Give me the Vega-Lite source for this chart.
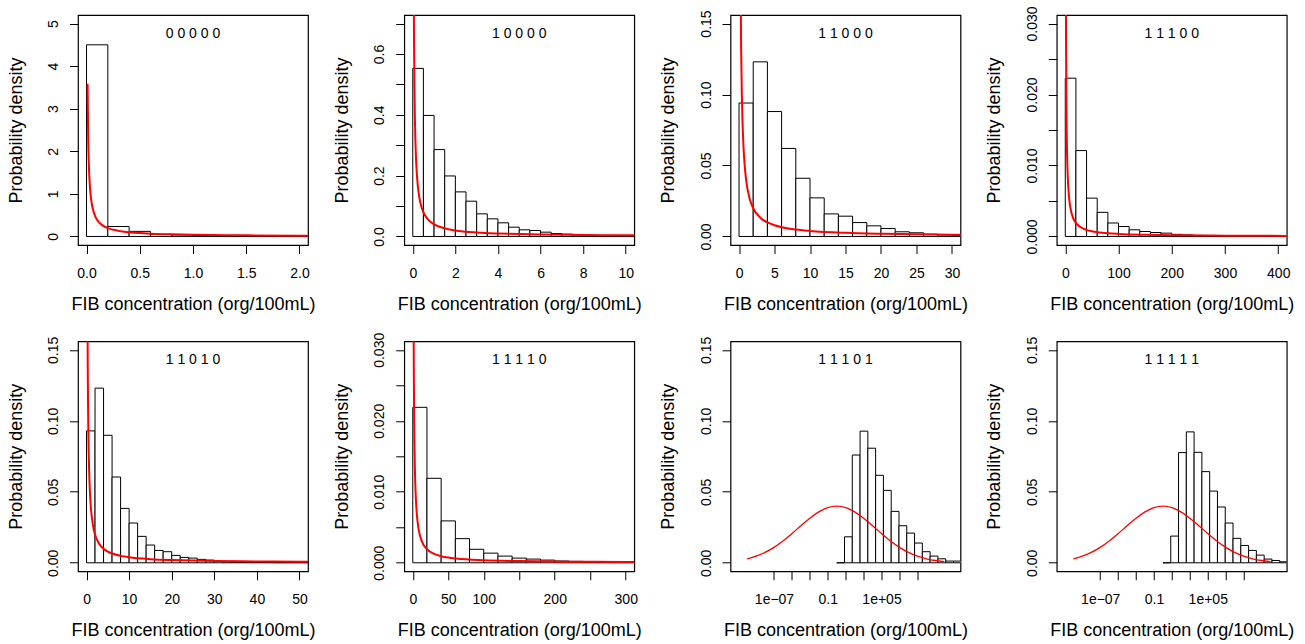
{
"$schema":"https://vega.github.io/schema/vega-lite/v6.json",
"background":"white",
"padding":{"left":6,"top":5,"right":0,"bottom":0},
"datasets":{
"bars":[
{"p":"00000","conc":0,"conc_end":0.2,"density":4.5},{"p":"00000","conc":0.2,"conc_end":0.4,"density":0.234},{"p":"00000","conc":0.4,"conc_end":0.6,"density":0.12},{"p":"00000","conc":0.6,"conc_end":0.8,"density":0.05},{"p":"00000","conc":0.8,"conc_end":1.0,"density":0.035},{"p":"00000","conc":1.0,"conc_end":1.2,"density":0.022},{"p":"00000","conc":1.2,"conc_end":1.4,"density":0.014},{"p":"00000","conc":1.4,"conc_end":1.6,"density":0.009},{"p":"00000","conc":1.6,"conc_end":1.8,"density":0.006},{"p":"00000","conc":1.8,"conc_end":2.0,"density":0.004},{"p":"00000","conc":2.0,"conc_end":2.2,"density":0.003},
{"p":"10000","conc":0,"conc_end":0.5,"density":0.5525},{"p":"10000","conc":0.5,"conc_end":1,"density":0.398},{"p":"10000","conc":1,"conc_end":1.5,"density":0.2856},{"p":"10000","conc":1.5,"conc_end":2,"density":0.199},{"p":"10000","conc":2,"conc_end":2.5,"density":0.1466},{"p":"10000","conc":2.5,"conc_end":3,"density":0.116},{"p":"10000","conc":3,"conc_end":3.5,"density":0.0744},{"p":"10000","conc":3.5,"conc_end":4,"density":0.058},{"p":"10000","conc":4,"conc_end":4.5,"density":0.0449},{"p":"10000","conc":4.5,"conc_end":5,"density":0.0306},{"p":"10000","conc":5,"conc_end":5.5,"density":0.0219},{"p":"10000","conc":5.5,"conc_end":6,"density":0.0197},{"p":"10000","conc":6,"conc_end":6.5,"density":0.0142},{"p":"10000","conc":6.5,"conc_end":7,"density":0.0098},{"p":"10000","conc":7,"conc_end":7.5,"density":0.0077},{"p":"10000","conc":7.5,"conc_end":8,"density":0.006},{"p":"10000","conc":8,"conc_end":8.5,"density":0.0045},{"p":"10000","conc":8.5,"conc_end":9,"density":0.0035},{"p":"10000","conc":9,"conc_end":9.5,"density":0.0027},{"p":"10000","conc":9.5,"conc_end":10,"density":0.002},{"p":"10000","conc":10,"conc_end":10.5,"density":0.0016},
{"p":"11000","conc":0,"conc_end":2,"density":0.094},{"p":"11000","conc":2,"conc_end":4,"density":0.123},{"p":"11000","conc":4,"conc_end":6,"density":0.088},{"p":"11000","conc":6,"conc_end":8,"density":0.062},{"p":"11000","conc":8,"conc_end":10,"density":0.041},{"p":"11000","conc":10,"conc_end":12,"density":0.0272},{"p":"11000","conc":12,"conc_end":14,"density":0.0159},{"p":"11000","conc":14,"conc_end":16,"density":0.0143},{"p":"11000","conc":16,"conc_end":18,"density":0.0098},{"p":"11000","conc":18,"conc_end":20,"density":0.0075},{"p":"11000","conc":20,"conc_end":22,"density":0.0056},{"p":"11000","conc":22,"conc_end":24,"density":0.0033},{"p":"11000","conc":24,"conc_end":26,"density":0.0026},{"p":"11000","conc":26,"conc_end":28,"density":0.0016},{"p":"11000","conc":28,"conc_end":30,"density":0.0011},{"p":"11000","conc":30,"conc_end":32,"density":0.0008},
{"p":"11100","conc":0,"conc_end":20,"density":0.0223},{"p":"11100","conc":20,"conc_end":40,"density":0.0121},{"p":"11100","conc":40,"conc_end":60,"density":0.0054},{"p":"11100","conc":60,"conc_end":80,"density":0.0034},{"p":"11100","conc":80,"conc_end":100,"density":0.0019},{"p":"11100","conc":100,"conc_end":120,"density":0.0014},{"p":"11100","conc":120,"conc_end":140,"density":0.00094},{"p":"11100","conc":140,"conc_end":160,"density":0.0007},{"p":"11100","conc":160,"conc_end":180,"density":0.00056},{"p":"11100","conc":180,"conc_end":200,"density":0.00047},{"p":"11100","conc":200,"conc_end":220,"density":0.0003},{"p":"11100","conc":220,"conc_end":240,"density":0.00022},{"p":"11100","conc":240,"conc_end":260,"density":0.00016},{"p":"11100","conc":260,"conc_end":280,"density":0.00012},{"p":"11100","conc":280,"conc_end":300,"density":0.0001},{"p":"11100","conc":300,"conc_end":320,"density":0.00008},{"p":"11100","conc":320,"conc_end":340,"density":0.00006},{"p":"11100","conc":340,"conc_end":360,"density":0.00005},{"p":"11100","conc":360,"conc_end":380,"density":0.00004},{"p":"11100","conc":380,"conc_end":400,"density":0.00003},{"p":"11100","conc":400,"conc_end":420,"density":0.00002},
{"p":"11010","conc":0,"conc_end":2,"density":0.0929},{"p":"11010","conc":2,"conc_end":4,"density":0.123},{"p":"11010","conc":4,"conc_end":6,"density":0.0898},{"p":"11010","conc":6,"conc_end":8,"density":0.0604},{"p":"11010","conc":8,"conc_end":10,"density":0.0383},{"p":"11010","conc":10,"conc_end":12,"density":0.028},{"p":"11010","conc":12,"conc_end":14,"density":0.0186},{"p":"11010","conc":14,"conc_end":16,"density":0.0125},{"p":"11010","conc":16,"conc_end":18,"density":0.0087},{"p":"11010","conc":18,"conc_end":20,"density":0.0078},{"p":"11010","conc":20,"conc_end":22,"density":0.0052},{"p":"11010","conc":22,"conc_end":24,"density":0.0038},{"p":"11010","conc":24,"conc_end":26,"density":0.0033},{"p":"11010","conc":26,"conc_end":28,"density":0.0024},{"p":"11010","conc":28,"conc_end":30,"density":0.0019},{"p":"11010","conc":30,"conc_end":32,"density":0.0009},{"p":"11010","conc":32,"conc_end":34,"density":0.0007},{"p":"11010","conc":34,"conc_end":36,"density":0.0005},{"p":"11010","conc":36,"conc_end":38,"density":0.0004},{"p":"11010","conc":38,"conc_end":40,"density":0.0003},{"p":"11010","conc":40,"conc_end":42,"density":0.0002},{"p":"11010","conc":42,"conc_end":44,"density":0.0002},{"p":"11010","conc":44,"conc_end":46,"density":0.0001},{"p":"11010","conc":46,"conc_end":48,"density":0.0001},{"p":"11010","conc":48,"conc_end":50,"density":0.0001},{"p":"11010","conc":50,"conc_end":52,"density":0.0001},{"p":"11010","conc":52,"conc_end":54,"density":0.00005},
{"p":"11110","conc":0,"conc_end":20,"density":0.0219},{"p":"11110","conc":20,"conc_end":40,"density":0.0119},{"p":"11110","conc":40,"conc_end":60,"density":0.0059},{"p":"11110","conc":60,"conc_end":80,"density":0.0034},{"p":"11110","conc":80,"conc_end":100,"density":0.0019},{"p":"11110","conc":100,"conc_end":120,"density":0.00136},{"p":"11110","conc":120,"conc_end":140,"density":0.00094},{"p":"11110","conc":140,"conc_end":160,"density":0.00066},{"p":"11110","conc":160,"conc_end":180,"density":0.00052},{"p":"11110","conc":180,"conc_end":200,"density":0.00038},{"p":"11110","conc":200,"conc_end":220,"density":0.00025},{"p":"11110","conc":220,"conc_end":240,"density":0.0002},{"p":"11110","conc":240,"conc_end":260,"density":0.00015},{"p":"11110","conc":260,"conc_end":280,"density":0.0001},{"p":"11110","conc":280,"conc_end":300,"density":0.0001},{"p":"11110","conc":300,"conc_end":320,"density":0.00008},
{"p":"11101","conc":1,"conc_end":7.389,"density":0},{"p":"11101","conc":7.389,"conc_end":54.6,"density":0.0183},{"p":"11101","conc":54.6,"conc_end":403.4,"density":0.0759},{"p":"11101","conc":403.4,"conc_end":2981,"density":0.0927},{"p":"11101","conc":2981,"conc_end":22026,"density":0.0807},{"p":"11101","conc":22026,"conc_end":162755,"density":0.0616},{"p":"11101","conc":162755,"conc_end":1202604,"density":0.051},{"p":"11101","conc":1202604,"conc_end":8886111,"density":0.0362},{"p":"11101","conc":8886111,"conc_end":65659969,"density":0.0261},{"p":"11101","conc":65659969,"conc_end":485165195,"density":0.0209},{"p":"11101","conc":485165195,"conc_end":3584912846,"density":0.0139},{"p":"11101","conc":3584912846,"conc_end":26489122130,"density":0.0078},{"p":"11101","conc":26489122130,"conc_end":195729609429,"density":0.0047},{"p":"11101","conc":195729609429,"conc_end":1446257064291,"density":0.0028},{"p":"11101","conc":1446257064291,"conc_end":10686474581525,"density":0.0012},{"p":"11101","conc":10686474581525,"conc_end":78962960182681,"density":0.0012},
{"p":"11111","conc":1,"conc_end":7.389,"density":0},{"p":"11111","conc":7.389,"conc_end":54.6,"density":0.0188},{"p":"11111","conc":54.6,"conc_end":403.4,"density":0.0776},{"p":"11111","conc":403.4,"conc_end":2981,"density":0.0922},{"p":"11111","conc":2981,"conc_end":22026,"density":0.0778},{"p":"11111","conc":22026,"conc_end":162755,"density":0.0642},{"p":"11111","conc":162755,"conc_end":1202604,"density":0.0505},{"p":"11111","conc":1202604,"conc_end":8886111,"density":0.0393},{"p":"11111","conc":8886111,"conc_end":65659969,"density":0.028},{"p":"11111","conc":65659969,"conc_end":485165195,"density":0.0172},{"p":"11111","conc":485165195,"conc_end":3584912846,"density":0.0122},{"p":"11111","conc":3584912846,"conc_end":26489122130,"density":0.0087},{"p":"11111","conc":26489122130,"conc_end":195729609429,"density":0.0054},{"p":"11111","conc":195729609429,"conc_end":1446257064291,"density":0.0026},{"p":"11111","conc":1446257064291,"conc_end":10686474581525,"density":0.0016},{"p":"11111","conc":10686474581525,"conc_end":78962960182681,"density":0.0007}
],
"curve":[
{"p":"00000","conc":0.01,"density":3.587},{"p":"00000","conc":0.015,"density":2.435},{"p":"00000","conc":0.02,"density":1.848},{"p":"00000","conc":0.03,"density":1.251},{"p":"00000","conc":0.04,"density":0.947},{"p":"00000","conc":0.05,"density":0.763},{"p":"00000","conc":0.06,"density":0.639},{"p":"00000","conc":0.08,"density":0.483},{"p":"00000","conc":0.1,"density":0.3886},{"p":"00000","conc":0.15,"density":0.2613},{"p":"00000","conc":0.2,"density":0.1969},{"p":"00000","conc":0.3,"density":0.132},{"p":"00000","conc":0.4,"density":0.0993},{"p":"00000","conc":0.5,"density":0.0796},{"p":"00000","conc":0.6,"density":0.0664},{"p":"00000","conc":0.8,"density":0.0499},{"p":"00000","conc":1,"density":0.0399},{"p":"00000","conc":1.2,"density":0.0332},{"p":"00000","conc":1.5,"density":0.0266},{"p":"00000","conc":2,"density":0.0199},{"p":"00000","conc":2.1,"density":0.019},
{"p":"10000","conc":0.03,"density":1.251},{"p":"10000","conc":0.04,"density":0.947},{"p":"10000","conc":0.05,"density":0.763},{"p":"10000","conc":0.06,"density":0.639},{"p":"10000","conc":0.08,"density":0.483},{"p":"10000","conc":0.1,"density":0.3886},{"p":"10000","conc":0.15,"density":0.2613},{"p":"10000","conc":0.2,"density":0.1969},{"p":"10000","conc":0.3,"density":0.132},{"p":"10000","conc":0.4,"density":0.0993},{"p":"10000","conc":0.5,"density":0.0796},{"p":"10000","conc":0.6,"density":0.0664},{"p":"10000","conc":0.8,"density":0.0499},{"p":"10000","conc":1,"density":0.0399},{"p":"10000","conc":1.5,"density":0.0266},{"p":"10000","conc":2,"density":0.0199},{"p":"10000","conc":3,"density":0.0132},{"p":"10000","conc":4,"density":0.00988},{"p":"10000","conc":5,"density":0.00788},{"p":"10000","conc":6,"density":0.00654},{"p":"10000","conc":8,"density":0.00488},{"p":"10000","conc":10,"density":0.00389},{"p":"10000","conc":10.5,"density":0.0037},
{"p":"11000","conc":0.15,"density":0.2613},{"p":"11000","conc":0.2,"density":0.1969},{"p":"11000","conc":0.3,"density":0.132},{"p":"11000","conc":0.4,"density":0.0993},{"p":"11000","conc":0.5,"density":0.0796},{"p":"11000","conc":0.6,"density":0.0664},{"p":"11000","conc":0.8,"density":0.0499},{"p":"11000","conc":1,"density":0.0399},{"p":"11000","conc":1.5,"density":0.0266},{"p":"11000","conc":2,"density":0.0199},{"p":"11000","conc":3,"density":0.0132},{"p":"11000","conc":4,"density":0.00988},{"p":"11000","conc":5,"density":0.00788},{"p":"11000","conc":6,"density":0.00654},{"p":"11000","conc":8,"density":0.00488},{"p":"11000","conc":10,"density":0.00389},{"p":"11000","conc":15,"density":0.00256},{"p":"11000","conc":20,"density":0.00191},{"p":"11000","conc":25,"density":0.00152},{"p":"11000","conc":30,"density":0.00126},{"p":"11000","conc":32,"density":0.00118},
{"p":"11100","conc":0.8,"density":0.0499},{"p":"11100","conc":1,"density":0.0399},{"p":"11100","conc":1.2,"density":0.0332},{"p":"11100","conc":1.5,"density":0.0266},{"p":"11100","conc":2,"density":0.0199},{"p":"11100","conc":3,"density":0.0132},{"p":"11100","conc":4,"density":0.00988},{"p":"11100","conc":5,"density":0.00788},{"p":"11100","conc":6,"density":0.00654},{"p":"11100","conc":8,"density":0.00488},{"p":"11100","conc":10,"density":0.00389},{"p":"11100","conc":15,"density":0.00256},{"p":"11100","conc":20,"density":0.00191},{"p":"11100","conc":30,"density":0.00126},{"p":"11100","conc":40,"density":0.000932},{"p":"11100","conc":50,"density":0.000739},{"p":"11100","conc":60,"density":0.000612},{"p":"11100","conc":80,"density":0.000453},{"p":"11100","conc":100,"density":0.000359},{"p":"11100","conc":150,"density":0.000235},{"p":"11100","conc":200,"density":0.000173},{"p":"11100","conc":250,"density":0.000137},{"p":"11100","conc":300,"density":0.000113},{"p":"11100","conc":350,"density":0.000096},{"p":"11100","conc":420,"density":0.000079},
{"p":"11010","conc":0.15,"density":0.2613},{"p":"11010","conc":0.2,"density":0.1969},{"p":"11010","conc":0.3,"density":0.132},{"p":"11010","conc":0.4,"density":0.0993},{"p":"11010","conc":0.5,"density":0.0796},{"p":"11010","conc":0.6,"density":0.0664},{"p":"11010","conc":0.8,"density":0.0499},{"p":"11010","conc":1,"density":0.0399},{"p":"11010","conc":1.5,"density":0.0266},{"p":"11010","conc":2,"density":0.0199},{"p":"11010","conc":3,"density":0.0132},{"p":"11010","conc":4,"density":0.00988},{"p":"11010","conc":5,"density":0.00788},{"p":"11010","conc":6,"density":0.00654},{"p":"11010","conc":8,"density":0.00488},{"p":"11010","conc":10,"density":0.00389},{"p":"11010","conc":15,"density":0.00256},{"p":"11010","conc":20,"density":0.00191},{"p":"11010","conc":25,"density":0.00152},{"p":"11010","conc":30,"density":0.00126},{"p":"11010","conc":40,"density":0.000932},{"p":"11010","conc":50,"density":0.000739},{"p":"11010","conc":53,"density":0.0007},
{"p":"11110","conc":0.8,"density":0.0499},{"p":"11110","conc":1,"density":0.0399},{"p":"11110","conc":1.2,"density":0.0332},{"p":"11110","conc":1.5,"density":0.0266},{"p":"11110","conc":2,"density":0.0199},{"p":"11110","conc":3,"density":0.0132},{"p":"11110","conc":4,"density":0.00988},{"p":"11110","conc":5,"density":0.00788},{"p":"11110","conc":6,"density":0.00654},{"p":"11110","conc":8,"density":0.00488},{"p":"11110","conc":10,"density":0.00389},{"p":"11110","conc":15,"density":0.00256},{"p":"11110","conc":20,"density":0.00191},{"p":"11110","conc":30,"density":0.00126},{"p":"11110","conc":40,"density":0.000932},{"p":"11110","conc":50,"density":0.000739},{"p":"11110","conc":60,"density":0.000612},{"p":"11110","conc":80,"density":0.000453},{"p":"11110","conc":100,"density":0.000359},{"p":"11110","conc":150,"density":0.000235},{"p":"11110","conc":200,"density":0.000173},{"p":"11110","conc":250,"density":0.000137},{"p":"11110","conc":300,"density":0.000113},{"p":"11110","conc":315,"density":0.000108},
{"p":"11101","conc":1e-10,"density":0.00282},{"p":"11101","conc":1e-9,"density":0.00466},{"p":"11101","conc":1e-8,"density":0.00731},{"p":"11101","conc":1e-7,"density":0.01088},{"p":"11101","conc":1e-6,"density":0.01536},{"p":"11101","conc":1e-5,"density":0.02056},{"p":"11101","conc":1e-4,"density":0.02611},{"p":"11101","conc":1e-3,"density":0.03143},{"p":"11101","conc":1e-2,"density":0.03589},{"p":"11101","conc":1e-1,"density":0.03885},{"p":"11101","conc":1,"density":0.0399},{"p":"11101","conc":10,"density":0.03885},{"p":"11101","conc":100,"density":0.03589},{"p":"11101","conc":1000,"density":0.03143},{"p":"11101","conc":1e4,"density":0.02611},{"p":"11101","conc":1e5,"density":0.02056},{"p":"11101","conc":1e6,"density":0.01536},{"p":"11101","conc":1e7,"density":0.01088},{"p":"11101","conc":1e8,"density":0.00731},{"p":"11101","conc":1e9,"density":0.00466},{"p":"11101","conc":1e10,"density":0.00282},{"p":"11101","conc":1e11,"density":0.00161},{"p":"11101","conc":1e12,"density":0.00088},
{"p":"11111","conc":1e-10,"density":0.00282},{"p":"11111","conc":1e-9,"density":0.00466},{"p":"11111","conc":1e-8,"density":0.00731},{"p":"11111","conc":1e-7,"density":0.01088},{"p":"11111","conc":1e-6,"density":0.01536},{"p":"11111","conc":1e-5,"density":0.02056},{"p":"11111","conc":1e-4,"density":0.02611},{"p":"11111","conc":1e-3,"density":0.03143},{"p":"11111","conc":1e-2,"density":0.03589},{"p":"11111","conc":1e-1,"density":0.03885},{"p":"11111","conc":1,"density":0.0399},{"p":"11111","conc":10,"density":0.03885},{"p":"11111","conc":100,"density":0.03589},{"p":"11111","conc":1000,"density":0.03143},{"p":"11111","conc":1e4,"density":0.02611},{"p":"11111","conc":1e5,"density":0.02056},{"p":"11111","conc":1e6,"density":0.01536},{"p":"11111","conc":1e7,"density":0.01088},{"p":"11111","conc":1e8,"density":0.00731},{"p":"11111","conc":1e9,"density":0.00466},{"p":"11111","conc":1e10,"density":0.00282},{"p":"11111","conc":1e11,"density":0.00161},{"p":"11111","conc":1e12,"density":0.00088}
]
},
"columns":4,
"spacing":{"row":96.3,"column":96.25},
"bounds":"flush",
"concat":[
{"width":230,"height":230,"title":{"text":"0 0 0 0 0","offset":-25.6},
 "encoding":{"x":{"field":"conc","type":"quantitative","scale":{"domain":[-0.08,2.08],"nice":false,"zero":false},"axis":{"values":[0,0.5,1,1.5,2],"format":".1f","title":"FIB concentration (org/100mL)"}},
 "y":{"field":"density","type":"quantitative","scale":{"domain":[-0.2,5.2],"nice":false,"zero":false},"axis":{"values":[0,1,2,3,4,5],"format":"d","title":"Probability density"}}},
 "layer":[
 {"data":{"name":"bars"},"transform":[{"filter":"datum.p=='00000'"}],"mark":{"type":"rect","fill":"white","stroke":"black","strokeWidth":1,"clip":true},"encoding":{"x2":{"field":"conc_end"},"y2":{"datum":0}}},
 {"data":{"name":"curve"},"transform":[{"filter":"datum.p=='00000'"}],"mark":{"type":"line","color":"#ff0000","strokeWidth":2,"clip":true,"interpolate":"monotone"},"encoding":{}}]},
{"width":230,"height":230,"title":{"text":"1 0 0 0 0","offset":-25.6},
 "encoding":{"x":{"field":"conc","type":"quantitative","scale":{"domain":[-0.4,10.4],"nice":false,"zero":false},"axis":{"values":[0,2,4,6,8,10],"format":"d","title":"FIB concentration (org/100mL)"}},
 "y":{"field":"density","type":"quantitative","scale":{"domain":[-0.028,0.728],"nice":false,"zero":false},"axis":{"values":[0,0.1,0.2,0.3,0.4,0.5,0.6,0.7],"labelExpr":"round(datum.value*10)%2==0 ? format(datum.value,'.1f') : ''","title":"Probability density"}}},
 "layer":[
 {"data":{"name":"bars"},"transform":[{"filter":"datum.p=='10000'"}],"mark":{"type":"rect","fill":"white","stroke":"black","strokeWidth":1,"clip":true},"encoding":{"x2":{"field":"conc_end"},"y2":{"datum":0}}},
 {"data":{"name":"curve"},"transform":[{"filter":"datum.p=='10000'"}],"mark":{"type":"line","color":"#ff0000","strokeWidth":2,"clip":true,"interpolate":"monotone"},"encoding":{}}]},
{"width":230,"height":230,"title":{"text":"1 1 0 0 0","offset":-31.2},
 "encoding":{"x":{"field":"conc","type":"quantitative","scale":{"domain":[-1.2,31.2],"nice":false,"zero":false},"axis":{"values":[0,5,10,15,20,25,30],"format":"d","title":"FIB concentration (org/100mL)"}},
 "y":{"field":"density","type":"quantitative","scale":{"domain":[-0.006,0.156],"nice":false,"zero":false},"axis":{"values":[0,0.05,0.1,0.15],"format":".2f","title":"Probability density"}}},
 "layer":[
 {"data":{"name":"bars"},"transform":[{"filter":"datum.p=='11000'"}],"mark":{"type":"rect","fill":"white","stroke":"black","strokeWidth":1,"clip":true},"encoding":{"x2":{"field":"conc_end"},"y2":{"datum":0}}},
 {"data":{"name":"curve"},"transform":[{"filter":"datum.p=='11000'"}],"mark":{"type":"line","color":"#ff0000","strokeWidth":2,"clip":true,"interpolate":"monotone"},"encoding":{}}]},
{"width":230,"height":230,"title":{"text":"1 1 1 0 0","offset":-35.1},
 "encoding":{"x":{"field":"conc","type":"quantitative","scale":{"domain":[-16,416],"nice":false,"zero":false},"axis":{"values":[0,100,200,300,400],"format":"d","title":"FIB concentration (org/100mL)"}},
 "y":{"field":"density","type":"quantitative","scale":{"domain":[-0.0012,0.0312],"nice":false,"zero":false},"axis":{"values":[0,0.005,0.01,0.015,0.02,0.025,0.03],"labelExpr":"round(datum.value*1000)%10==0 ? format(datum.value,'.3f') : ''","title":"Probability density"}}},
 "layer":[
 {"data":{"name":"bars"},"transform":[{"filter":"datum.p=='11100'"}],"mark":{"type":"rect","fill":"white","stroke":"black","strokeWidth":1,"clip":true},"encoding":{"x2":{"field":"conc_end"},"y2":{"datum":0}}},
 {"data":{"name":"curve"},"transform":[{"filter":"datum.p=='11100'"}],"mark":{"type":"line","color":"#ff0000","strokeWidth":2,"clip":true,"interpolate":"monotone"},"encoding":{}}]},
{"width":230,"height":230,"title":{"text":"1 1 0 1 0","offset":-31.2},
 "encoding":{"x":{"field":"conc","type":"quantitative","scale":{"domain":[-2,52],"nice":false,"zero":false},"axis":{"values":[0,10,20,30,40,50],"format":"d","title":"FIB concentration (org/100mL)"}},
 "y":{"field":"density","type":"quantitative","scale":{"domain":[-0.006,0.156],"nice":false,"zero":false},"axis":{"values":[0,0.05,0.1,0.15],"format":".2f","title":"Probability density"}}},
 "layer":[
 {"data":{"name":"bars"},"transform":[{"filter":"datum.p=='11010'"}],"mark":{"type":"rect","fill":"white","stroke":"black","strokeWidth":1,"clip":true},"encoding":{"x2":{"field":"conc_end"},"y2":{"datum":0}}},
 {"data":{"name":"curve"},"transform":[{"filter":"datum.p=='11010'"}],"mark":{"type":"line","color":"#ff0000","strokeWidth":2,"clip":true,"interpolate":"monotone"},"encoding":{}}]},
{"width":230,"height":230,"title":{"text":"1 1 1 1 0","offset":-35.1},
 "encoding":{"x":{"field":"conc","type":"quantitative","scale":{"domain":[-12,312],"nice":false,"zero":false},"axis":{"values":[0,50,100,150,200,250,300],"labelExpr":"datum.value==150 || datum.value==250 ? '' : format(datum.value,'d')","title":"FIB concentration (org/100mL)"}},
 "y":{"field":"density","type":"quantitative","scale":{"domain":[-0.0012,0.0312],"nice":false,"zero":false},"axis":{"values":[0,0.005,0.01,0.015,0.02,0.025,0.03],"labelExpr":"round(datum.value*1000)%10==0 ? format(datum.value,'.3f') : ''","title":"Probability density"}}},
 "layer":[
 {"data":{"name":"bars"},"transform":[{"filter":"datum.p=='11110'"}],"mark":{"type":"rect","fill":"white","stroke":"black","strokeWidth":1,"clip":true},"encoding":{"x2":{"field":"conc_end"},"y2":{"datum":0}}},
 {"data":{"name":"curve"},"transform":[{"filter":"datum.p=='11110'"}],"mark":{"type":"line","color":"#ff0000","strokeWidth":2,"clip":true,"interpolate":"monotone"},"encoding":{}}]},
{"width":230,"height":230,"title":{"text":"1 1 1 0 1","offset":-31.2},
 "encoding":{"x":{"field":"conc","type":"quantitative","scale":{"type":"log","domain":[1.4e-12,6.5e13],"nice":false},"axis":{"values":[1e-7,1e-5,1e-3,0.1,10,1000,1e5,1e7,1e9],"labelExpr":"datum.value < 1e-6 ? '1e\u221207' : (datum.value > 0.05 && datum.value < 0.2) ? '0.1' : (datum.value > 5e4 && datum.value < 5e5) ? '1e+05' : ''","title":"FIB concentration (org/100mL)"}},
 "y":{"field":"density","type":"quantitative","scale":{"domain":[-0.006,0.156],"nice":false,"zero":false},"axis":{"values":[0,0.05,0.1,0.15],"format":".2f","title":"Probability density"}}},
 "layer":[
 {"data":{"name":"bars"},"transform":[{"filter":"datum.p=='11101'"}],"mark":{"type":"rect","fill":"white","stroke":"black","strokeWidth":1,"clip":true},"encoding":{"x2":{"field":"conc_end"},"y2":{"datum":0}}},
 {"data":{"name":"curve"},"transform":[{"filter":"datum.p=='11101'"}],"mark":{"type":"line","color":"#ff0000","strokeWidth":1.3,"clip":true,"interpolate":"monotone"},"encoding":{}}]},
{"width":230,"height":230,"title":{"text":"1 1 1 1 1","offset":-31.2},
 "encoding":{"x":{"field":"conc","type":"quantitative","scale":{"type":"log","domain":[1.4e-12,6.5e13],"nice":false},"axis":{"values":[1e-7,1e-5,1e-3,0.1,10,1000,1e5,1e7,1e9],"labelExpr":"datum.value < 1e-6 ? '1e\u221207' : (datum.value > 0.05 && datum.value < 0.2) ? '0.1' : (datum.value > 5e4 && datum.value < 5e5) ? '1e+05' : ''","title":"FIB concentration (org/100mL)"}},
 "y":{"field":"density","type":"quantitative","scale":{"domain":[-0.006,0.156],"nice":false,"zero":false},"axis":{"values":[0,0.05,0.1,0.15],"format":".2f","title":"Probability density"}}},
 "layer":[
 {"data":{"name":"bars"},"transform":[{"filter":"datum.p=='11111'"}],"mark":{"type":"rect","fill":"white","stroke":"black","strokeWidth":1,"clip":true},"encoding":{"x2":{"field":"conc_end"},"y2":{"datum":0}}},
 {"data":{"name":"curve"},"transform":[{"filter":"datum.p=='11111'"}],"mark":{"type":"line","color":"#ff0000","strokeWidth":1.3,"clip":true,"interpolate":"monotone"},"encoding":{}}]}
],
"config":{
 "font":"Liberation Sans",
 "view":{"stroke":"black","strokeWidth":1.2},
 "axis":{"grid":false,"domain":false,"ticks":true,"tickColor":"black","tickWidth":1,"tickSize":8.5,"labelColor":"black","labelFont":"Liberation Sans","labelFontSize":14,"titleFont":"Liberation Sans","titleFontSize":18,"titleFontWeight":"normal","titleColor":"black","labelOverlap":false,"labelFlush":false},
 "axisX":{"labelBaseline":"alphabetic","labelPadding":24,"titleY":64,"titleX":115,"titleBaseline":"alphabetic","titleAlign":"center","titleAnchor":"middle"},
 "axisY":{"labelAngle":270,"labelAlign":"center","labelBaseline":"alphabetic","labelPadding":12,"titleX":-57,"titleY":115,"titleAngle":270,"titleAlign":"center","titleBaseline":"alphabetic","titleAnchor":"middle"},
 "title":{"fontSize":14,"fontWeight":"normal","color":"black","anchor":"middle","baseline":"alphabetic","font":"Liberation Sans","frame":"group"}
}
}
